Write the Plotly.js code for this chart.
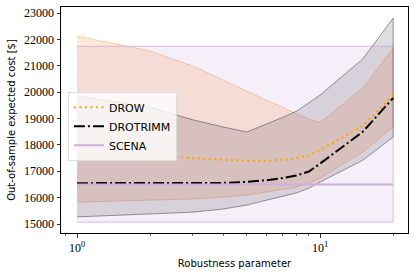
<!DOCTYPE html>
<html>
<head>
<meta charset="utf-8">
<script src="https://cdn.plot.ly/plotly-3.0.1.min.js"></script>
<style>html,body{margin:0;padding:0;background:#fff;}#chart{width:416px;height:274px;}</style>
</head>
<body>
<div id="chart"></div>
<script>
const robustness = [1, 2, 3, 4, 5, 6, 7, 8, 9, 10, 15, 20];

const drowMean  = [17690, 17600, 17500, 17430, 17390, 17400, 17430, 17500, 17600, 17800, 18720, 19890];
const drowLow   = [15830, 15910, 15950, 16020, 16100, 16210, 16310, 16400, 16550, 16740, 17730, 18680];
const drowHigh  = [22130, 21560, 20990, 20460, 20040, 19700, 19440, 19170, 18980, 18840, 20160, 21670];

const trimmMean = [16550, 16550, 16550, 16560, 16600, 16660, 16740, 16840, 16990, 17290, 18500, 19780];
const trimmLow  = [15270, 15380, 15450, 15570, 15720, 15900, 16060, 16180, 16360, 16590, 17420, 18300];
const trimmHigh = [19850, 19430, 18950, 18680, 18490, 18790, 19040, 19280, 19590, 19890, 21260, 22810];

const scenaMean = [16500, 16500, 16500, 16500, 16500, 16500, 16500, 16500, 16500, 16500, 16500, 16500];
const scenaLow  = [15070, 15070, 15070, 15070, 15070, 15070, 15070, 15070, 15070, 15070, 15070, 15070];
const scenaHigh = [21740, 21740, 21740, 21740, 21740, 21740, 21740, 21740, 21740, 21740, 21740, 21740];

const yTicks = [15000, 16000, 17000, 18000, 19000, 20000, 21000, 22000, 23000];
const xTickVals = [1, 10];
const xTickText = ['10<sup>0</sup>', '10<sup>1</sup>'];
const xMinorVals = [0.9, 2, 3, 4, 5, 6, 7, 8, 9, 20];

function band(lo, hi, fill, edge) {
  return {
    x: robustness.concat(robustness.slice().reverse()),
    y: lo.concat(hi.slice().reverse()),
    type: 'scatter', mode: 'lines', fill: 'toself',
    fillcolor: fill, line: {color: edge, width: 1},
    showlegend: false, hoverinfo: 'skip'
  };
}

const traces = [
  band(drowLow, drowHigh, 'rgba(255,127,14,0.16)', 'rgba(255,150,60,0.4)'),
  band(trimmLow, trimmHigh, 'rgba(0,0,0,0.13)', 'rgba(0,0,0,0.4)'),
  band(scenaLow, scenaHigh, 'rgba(160,110,205,0.11)', 'rgba(185,140,215,0.5)'),
  {x: robustness, y: drowMean, type: 'scatter', mode: 'lines', name: 'DROW',
   line: {color: '#FFA500', width: 2.2, dash: '2px,3.5px'}},
  {x: robustness, y: trimmMean, type: 'scatter', mode: 'lines', name: 'DROTRIMM',
   line: {color: '#000000', width: 2, dash: '11px,3px,2px,3px'}},
  {x: robustness, y: scenaMean, type: 'scatter', mode: 'lines', name: 'SCENA',
   line: {color: '#CDAEDD', width: 2}}
];

const layout = {
  width: 416, height: 274,
  margin: {l: 61, r: 8, t: 7, b: 41},
  paper_bgcolor: '#ffffff', plot_bgcolor: '#ffffff',
  showlegend: true,
  legend: {
    x: 0.02, y: 0.625, xanchor: 'left', yanchor: 'top',
    bgcolor: 'rgba(255,255,255,0.8)', bordercolor: '#dddddd', borderwidth: 1,
    font: {family: 'DejaVu Sans', size: 11, color: '#000'},
    tracegroupgap: 0
  },
  xaxis: {
    type: 'log', range: [-0.066, 1.362],
    tickmode: 'array', tickvals: xTickVals, ticktext: xTickText,
    ticks: 'outside', ticklen: 3.5, tickwidth: 0.8, tickcolor: '#000',
    minor: {tickmode: 'array', tickvals: xMinorVals, ticks: 'outside', ticklen: 2, tickwidth: 0.6, tickcolor: '#000', showgrid: false},
    showline: true, mirror: true, linecolor: '#000', linewidth: 1,
    showgrid: false, zeroline: false,
    tickfont: {family: 'Liberation Serif', size: 12, color: '#000'},
    title: {text: 'Robustness parameter', font: {family: 'DejaVu Sans', size: 10, color: '#000'}, standoff: 6}
  },
  yaxis: {
    range: [14660, 23230],
    tickmode: 'array', tickvals: yTicks, ticktext: yTicks.map(String),
    ticks: 'outside', ticklen: 3.5, tickwidth: 0.8, tickcolor: '#000',
    showline: true, mirror: true, linecolor: '#000', linewidth: 1,
    showgrid: false, zeroline: false,
    tickfont: {family: 'Liberation Serif', size: 12, color: '#000'},
    title: {text: 'Out-of-sample expected cost [$]', font: {family: 'DejaVu Sans', size: 10, color: '#000'}, standoff: 6}
  }
};

Plotly.newPlot('chart', traces, layout, {displayModeBar: false, staticPlot: true});
</script>
</body>
</html>
